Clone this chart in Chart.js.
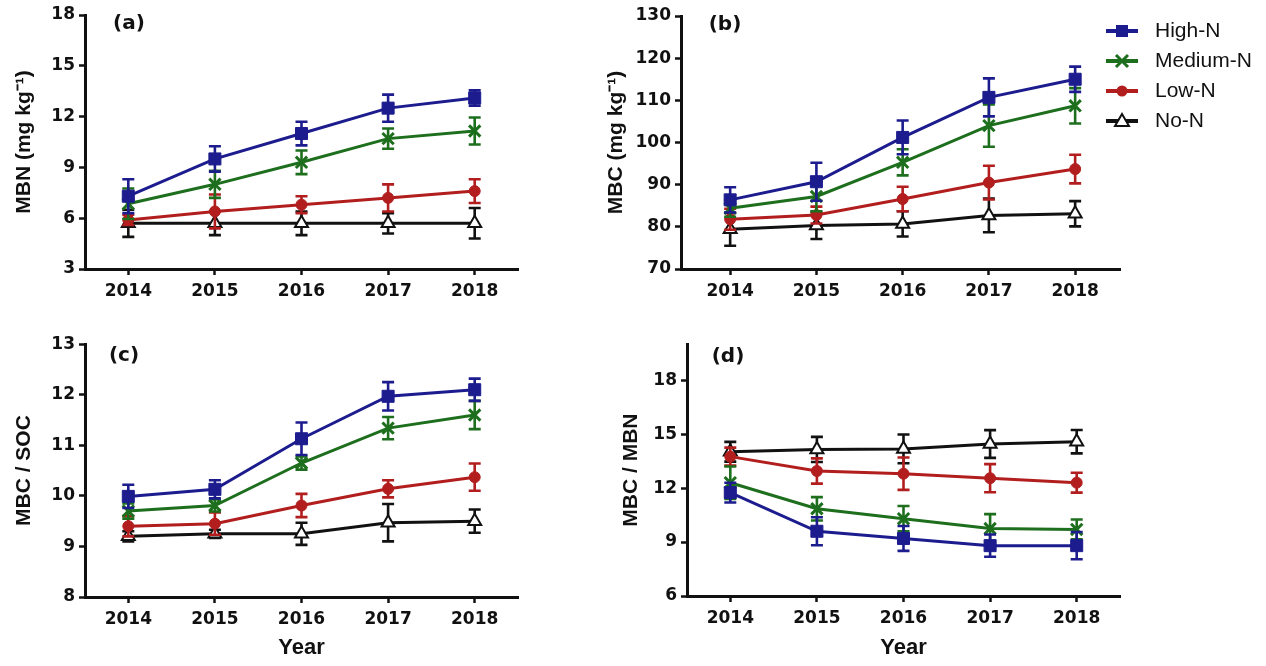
<!DOCTYPE html>
<html>
<head>
<meta charset="utf-8">
<script src="https://cdn.jsdelivr.net/npm/chart.js@4.4.1/dist/chart.umd.min.js"></script>
<style>
html, body { margin: 0; padding: 0; background: #fff; }
body { width: 1266px; height: 666px; position: relative; overflow: hidden; }
.panel { position: absolute; }
</style>
</head>
<body>
<div class="panel" style="left:0;top:0;width:530px;height:330px"><canvas id="chartA"></canvas></div>
<div class="panel" style="left:600px;top:0;width:666px;height:330px"><canvas id="chartB"></canvas></div>
<div class="panel" style="left:0;top:330px;width:530px;height:336px"><canvas id="chartC"></canvas></div>
<div class="panel" style="left:600px;top:330px;width:666px;height:336px"><canvas id="chartD"></canvas></div>
<script>
var years = [2014, 2015, 2016, 2017, 2018];
var treatments = ['High-N', 'Medium-N', 'Low-N', 'No-N'];

// (a) MBN, rows follow treatments
var mbnMean = [
    [7.3, 9.5, 11.0, 12.5, 13.1],
    [6.85, 8.0, 9.3, 10.7, 11.15],
    [5.9, 6.4, 6.8, 7.2, 7.6],
    [5.7, 5.7, 5.7, 5.7, 5.7]
];
var mbnErr = [
    [1.0, 0.75, 0.7, 0.8, 0.45],
    [0.9, 0.8, 0.7, 0.6, 0.8],
    [0.3, 1.0, 0.5, 0.8, 0.7],
    [0.8, 0.7, 0.7, 0.6, 0.9]
];

// (b) MBC
var mbcMean = [
    [86.4, 90.7, 101.2, 110.7, 115.0],
    [84.4, 87.2, 95.3, 104.0, 108.7],
    [81.8, 82.8, 86.6, 90.5, 93.7],
    [79.4, 80.3, 80.7, 82.7, 83.1]
];
var mbcErr = [
    [3.0, 4.5, 4.0, 4.5, 3.0],
    [2.0, 3.5, 3.1, 5.0, 4.2],
    [2.5, 2.0, 2.9, 4.0, 3.4],
    [3.9, 3.2, 3.0, 4.0, 3.0]
];

// (c) MBC / SOC
var mbcSocMean = [
    [9.99, 10.13, 11.13, 11.97, 12.1],
    [9.7, 9.81, 10.65, 11.34, 11.6],
    [9.4, 9.45, 9.81, 10.14, 10.37],
    [9.2, 9.25, 9.25, 9.47, 9.5]
];
var mbcSocErr = [
    [0.23, 0.18, 0.32, 0.28, 0.22],
    [0.15, 0.12, 0.13, 0.22, 0.28],
    [0.2, 0.22, 0.23, 0.17, 0.27],
    [0.1, 0.08, 0.22, 0.37, 0.23]
];

// (d) MBC / MBN
var mbcMbnMean = [
    [11.75, 9.6, 9.2, 8.8, 8.8],
    [12.3, 10.85, 10.3, 9.75, 9.7],
    [13.75, 12.95, 12.8, 12.55, 12.3],
    [14.02, 14.15, 14.18, 14.45, 14.58]
];
var mbcMbnErr = [
    [0.55, 0.78, 0.69, 0.62, 0.76],
    [0.9, 0.65, 0.7, 0.8, 0.55],
    [0.5, 0.7, 0.9, 0.78, 0.55],
    [0.55, 0.7, 0.8, 0.77, 0.65]
];

var colors = ['#1c1c8e', '#1d6e1d', '#b21e1e', '#111111'];
var markers = ['rect', 'crossRot', 'circle', 'triangle'];
var markerRadius = [8.5, 8, 5.5, 7.5];
var markerBorder = [1, 3, 1, 2];

var tickFont = { family: 'DejaVu Sans', size: 17, weight: 'bold' };
var titleFont = { family: 'Liberation Sans', size: 21, weight: 'bold' };

// vertical error bars, drawn just before each dataset so its line and markers sit on top
var errorBars = {
    id: 'errorBars',
    beforeDatasetDraw: function(chart, args) {
        var ds = chart.data.datasets[args.index];
        if (!ds.errors) return;
        var ys = chart.scales.y;
        var pts = chart.getDatasetMeta(args.index).data;
        var ctx = chart.ctx;
        ctx.save();
        ctx.strokeStyle = ds.errorColor;
        ctx.lineWidth = 2.6;
        for (var i = 0; i < pts.length; i++) {
            var x = pts[i].x;
            var top = ys.getPixelForValue(ds.data[i] + ds.errors[i]);
            var bot = ys.getPixelForValue(ds.data[i] - ds.errors[i]);
            ctx.beginPath();
            ctx.moveTo(x, top); ctx.lineTo(x, bot);
            ctx.moveTo(x - 6, top); ctx.lineTo(x + 6, top);
            ctx.moveTo(x - 6, bot); ctx.lineTo(x + 6, bot);
            ctx.stroke();
        }
        ctx.restore();
    }
};

// panel letter inside the plot area
var panelLabel = {
    id: 'panelLabel',
    afterDraw: function(chart, args, opts) {
        var ctx = chart.ctx;
        ctx.save();
        ctx.font = 'bold 20px "DejaVu Sans"';
        ctx.fillStyle = '#111';
        ctx.textAlign = 'center';
        ctx.textBaseline = 'middle';
        ctx.fillText(opts.text, chart.chartArea.left + opts.dx, chart.chartArea.top + opts.dy);
        ctx.restore();
    }
};

// legend sits over the top-right of panel (b); widen its box so it is not clipped to the plot area
var legendPlacer = {
    id: 'legendPlacer',
    afterLayout: function(chart, args, opts) {
        if (!chart.legend || !opts.place) return;
        var lg = chart.legend;
        lg.left = opts.left;
        lg.top = opts.top;
        lg.right = chart.width;
        lg.bottom = opts.top + 130;
        lg.width = lg.right - lg.left;
        lg.height = 130;
    }
};

function legendIcon(i) {
    var c = document.createElement('canvas');
    c.width = 32; c.height = 20;
    var g = c.getContext('2d');
    g.strokeStyle = colors[i];
    g.lineWidth = 4;
    g.beginPath(); g.moveTo(0, 10); g.lineTo(32, 10); g.stroke();
    g.fillStyle = colors[i];
    if (markers[i] == 'rect') {
        g.fillRect(10, 4, 12, 12);
    } else if (markers[i] == 'crossRot') {
        g.lineWidth = 3;
        g.beginPath();
        g.moveTo(10, 4); g.lineTo(22, 16);
        g.moveTo(22, 4); g.lineTo(10, 16);
        g.stroke();
    } else if (markers[i] == 'circle') {
        g.beginPath(); g.arc(16, 10, 5.5, 0, Math.PI * 2); g.fill();
    } else {
        g.fillStyle = '#fff';
        g.lineWidth = 2;
        g.beginPath();
        g.moveTo(16, 3); g.lineTo(23, 15); g.lineTo(9, 15); g.closePath();
        g.fill(); g.stroke();
    }
    return c;
}

function buildDatasets(means, errs) {
    var out = [];
    for (var i = 0; i < treatments.length; i++) {
        out.push({
            label: treatments[i],
            data: means[i],
            errors: errs[i],
            errorColor: colors[i],
            borderColor: colors[i],
            borderWidth: 3,
            tension: 0,
            fill: false,
            clip: false,
            pointStyle: markers[i],
            pointRadius: markerRadius[i],
            pointBorderWidth: markerBorder[i],
            pointBackgroundColor: i == 3 ? '#ffffff' : colors[i],
            pointBorderColor: colors[i]
        });
    }
    return out;
}

function makePanel(id, p) {
    var legendOpts = { display: false };
    if (p.legend) {
        var icons = treatments.map(function(t, i) { return legendIcon(i); });
        legendOpts = {
            display: true,
            position: 'chartArea',
            align: 'start',
            labels: {
                usePointStyle: true,
                pointStyleWidth: 45,
                padding: 9,
                color: '#111',
                font: { family: 'Liberation Sans', size: 21 },
                generateLabels: function() {
                    return treatments.map(function(t, i) {
                        return { text: t, pointStyle: icons[i], fillStyle: colors[i], strokeStyle: colors[i],
                                 lineWidth: 0, hidden: false, datasetIndex: i, fontColor: '#111' };
                    });
                }
            }
        };
    }
    var axisGrid = { display: true, drawOnChartArea: false, drawTicks: true, tickLength: 6, tickWidth: 2.5, tickColor: '#111', color: '#111' };
    var axisBorder = { display: true, color: '#111', width: 3 };
    return new Chart(document.getElementById(id), {
        type: 'line',
        data: { labels: years, datasets: buildDatasets(p.means, p.errs) },
        plugins: [errorBars, panelLabel, legendPlacer],
        options: {
            responsive: true,
            maintainAspectRatio: false,
            animation: false,
            devicePixelRatio: 1,
            layout: { padding: { top: p.padTop, right: p.padRight, left: 0, bottom: 0 } },
            scales: {
                x: {
                    type: 'linear',
                    min: p.xMin, max: p.xMax,
                    grid: axisGrid, border: axisBorder,
                    afterBuildTicks: function(s) { s.ticks = years.map(function(v) { return { value: v }; }); },
                    afterFit: function(s) { s.height = p.xHeight; },
                    ticks: { font: tickFont, color: '#111', padding: 6, maxRotation: 0,
                             callback: function(v) { return String(v); } },
                    title: { display: !!p.xTitle, text: p.xTitle || '', color: '#111',
                             font: { family: 'Liberation Sans', size: 22, weight: 'bold' },
                             padding: { top: 0, bottom: 4.8 } }
                },
                y: {
                    min: p.yMin, max: p.yMax,
                    grid: axisGrid, border: axisBorder,
                    afterBuildTicks: function(s) {
                        s.ticks = s.ticks.filter(function(t) { return t.value <= p.yTop; });
                    },
                    afterFit: function(s) { s.width = p.yWidth; },
                    ticks: { stepSize: p.yStep, font: tickFont, color: '#111', padding: 4,
                             callback: function(v) { return String(v); } },
                    title: { display: true, text: p.yTitle, color: '#111', font: titleFont,
                             padding: { top: p.yTitlePad, bottom: 0 } }
                }
            },
            plugins: {
                legend: legendOpts,
                tooltip: { enabled: false },
                panelLabel: { text: p.label, dx: p.labelDx, dy: p.labelDy },
                legendPlacer: { place: !!p.legend, left: 490.5, top: 11.5 }
            }
        }
    });
}

makePanel('chartA', {
    means: mbnMean, errs: mbnErr,
    yMin: 3, yMax: 18, yStep: 3, yTop: 18, yTitle: 'MBN (mg kg\u207B\u00B9)', yTitlePad: 11.4,
    xMin: 2013.5, xMax: 2018.5, yWidth: 85, xHeight: 61, padTop: 15, padRight: 12,
    label: '(a)', labelDx: 44, labelDy: 9
});
makePanel('chartB', {
    means: mbcMean, errs: mbcErr,
    yMin: 70, yMax: 130, yStep: 10, yTop: 130, yTitle: 'MBC (mg kg\u207B\u00B9)', yTitlePad: 3.4,
    xMin: 2013.43, xMax: 2018.52, yWidth: 81, xHeight: 61, padTop: 16, padRight: 146,
    label: '(b)', labelDx: 44, labelDy: 9, legend: true
});
makePanel('chartC', {
    means: mbcSocMean, errs: mbcSocErr,
    yMin: 8, yMax: 13, yStep: 1, yTop: 13, yTitle: 'MBC / SOC', yTitlePad: 11.4,
    xMin: 2013.5, xMax: 2018.5, yWidth: 85, xHeight: 69, padTop: 11, padRight: 12,
    xTitle: 'Year', label: '(c)', labelDx: 39, labelDy: 12
});
makePanel('chartD', {
    means: mbcMbnMean, errs: mbcMbnErr,
    yMin: 6, yMax: 20, yStep: 3, yTop: 18, yTitle: 'MBC / MBN', yTitlePad: 18.4,
    xMin: 2013.5, xMax: 2018.5, yWidth: 87, xHeight: 70, padTop: 10.5, padRight: 146,
    xTitle: 'Year', label: '(d)', labelDx: 41, labelDy: 12.5
});
</script>
</body>
</html>
